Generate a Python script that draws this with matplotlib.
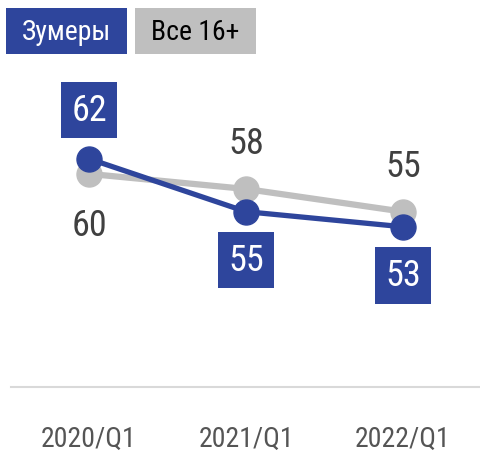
import matplotlib
matplotlib.use("Agg")
import matplotlib.pyplot as plt
from matplotlib import font_manager as fm
from matplotlib.patches import Rectangle

# pick a narrow font if one is installed
installed = {f.name for f in fm.fontManager.ttflist}
condensed_dejavu = any(f.name.startswith('DejaVu Sans') and 'ondensed' in f.fname
                       for f in fm.fontManager.ttflist)
stretch = 'normal'
family = 'Roboto'
for cand in ['Liberation Sans Narrow', 'Roboto Condensed', 'Open Sans Condensed',
             'DejaVu Sans Condensed']:
    if cand in installed:
        family = cand
        break
else:
    if condensed_dejavu:
        family = 'DejaVu Sans'
        stretch = 'condensed'
plt.rcParams['font.family'] = [family, 'DejaVu Sans']
plt.rcParams['font.stretch'] = stretch

# data
periods = ["2020/Q1", "2021/Q1", "2022/Q1"]
zoomers = [62, 55, 53]
all16 = [60, 58, 55]
series_names = ["Зумеры", "Все 16+"]

blue = "#2E459C"
grey = "#BFBFBF"

fig = plt.figure(figsize=(4.8, 4.56), dpi=100)
ax = fig.add_axes([10.5 / 480, 1 - 388 / 456, 471 / 480, 328 / 456])
x = range(len(periods))

ax.plot(x, all16, color=grey, lw=4.5, marker='o', markersize=18, zorder=2)
ax.plot(x, zoomers, color=blue, lw=3.8, marker='o', markersize=18, zorder=3)

# grey labels: first below, others above
for i, v in enumerate(all16):
    dy = -37 if i == 0 else 33
    ax.annotate(str(v), (i, v), xytext=(0, dy), textcoords='offset points',
                ha='center', va='center', fontsize=26, color='#404040')

# blue labels in boxes: first above, others below
for i, v in enumerate(zoomers):
    dy = 35 if i == 0 else -35
    ax.annotate(str(v), (i, v), xytext=(0, dy), textcoords='offset points',
                ha='center', va='center', fontsize=26, color='white',
                bbox=dict(boxstyle='square,pad=0.28', fc=blue, ec='none'))

ax.set_xlim(-0.5, 2.5)
ax.set_ylim(31.8, 75.2)
ax.set_yticks([])
ax.set_xticks(list(x))
ax.set_xticklabels(periods, fontsize=20, color='#555555')
ax.tick_params(axis='x', length=0, pad=27)
for s in ['top', 'right', 'left']:
    ax.spines[s].set_visible(False)
ax.spines['bottom'].set_color('#D9D9D9')
ax.spines['bottom'].set_linewidth(1.5)
ax.spines['bottom'].set_bounds(-0.5, 2.5)

# legend boxes
legend_colors = [blue, grey]
text_colors = ['white', 'black']
for k, name in enumerate(series_names):
    x0 = (6 + k * 129) / 480
    fig.patches.append(Rectangle((x0, 1 - 55 / 456), 121 / 480, 46 / 456,
                                 transform=fig.transFigure, fc=legend_colors[k], ec='none'))
    fig.text(x0 + 60.5 / 480, 1 - 32 / 456, name, ha='center', va='center',
             fontsize=20, color=text_colors[k])

fig.savefig("out.png", dpi=100)
